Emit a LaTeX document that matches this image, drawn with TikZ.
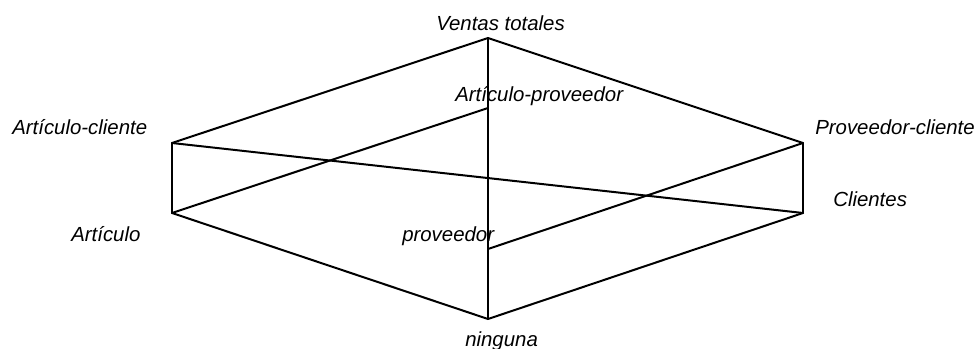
\documentclass[tikz,border=0pt]{standalone}
\usepackage{fontspec}
\setmainfont{Liberation Sans}
\usetikzlibrary{positioning}
\begin{document}
\begin{tikzpicture}[
    x=0.75pt, y=-0.75pt,
    edge/.style={draw=black, line width=1.5pt, line cap=round},
    tag/.style={font=\fontsize{15.3}{18}\selectfont\itshape, inner sep=0pt, anchor=base west}
]
\useasboundingbox (0,0) rectangle (978,349);

% Lattice vertices
\coordinate (vt) at (488,38);
\coordinate (ap) at (488,108);
\coordinate (ac) at (172,143);
\coordinate (pc) at (803,143);
\coordinate (ar) at (172,213);
\coordinate (cl) at (803,213);
\coordinate (pr) at (488,249);
\coordinate (ni) at (488,319);

% Labels
\node[tag] (vtl) at (436,31) {Ventas totales};
\node[tag] (apl) at (455,102) {Artículo-proveedor};
\node[tag] (acl) at (12,135) {Artículo-cliente};
\node[tag] (pcl) at (815,135) {Proveedor-cliente};
\node[tag] (cll) at (833,207) {Clientes};
\node[tag] (arl) at (71,242) {Artículo};
\node[tag] (prl) at (402,242) {proveedor};
\node[tag] (nil) at (465,346) {ninguna};

% Edges
\draw[edge] (vt) -- (ac);
\draw[edge] (vt) -- (pc);
\draw[edge] (vt) -- (ni);
\draw[edge] (ac) -- (ar);
\draw[edge] (ac) -- (cl);
\draw[edge] (pc) -- (cl);
\draw[edge] (pc) -- (pr);
\draw[edge] (ar) -- (ap);
\draw[edge] (ar) -- (ni);
\draw[edge] (cl) -- (ni);

\end{tikzpicture}
\end{document}
